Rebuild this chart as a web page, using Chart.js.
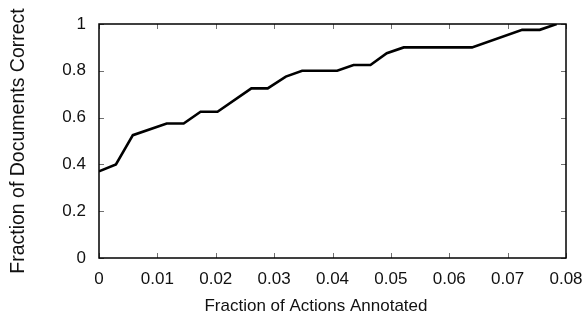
<!DOCTYPE html>
<html>
<head>
<meta charset="utf-8">
<script src="https://cdn.jsdelivr.net/npm/chart.js@4.4.1/dist/chart.umd.min.js"></script>
<style>
  html, body { margin: 0; padding: 0; background: #fff; }
  #wrap { width: 587px; height: 320px; position: relative; }
</style>
</head>
<body>
<div id="wrap"><canvas id="c" width="587" height="320"></canvas></div>
<script>
// Data
const fractionActions = [0, 0.0029, 0.0058, 0.0116, 0.0145, 0.0174, 0.0203, 0.0261, 0.0289, 0.0320, 0.0348, 0.0408, 0.0436, 0.0465, 0.0493, 0.0522, 0.0639, 0.0725, 0.0755, 0.0784];
const fractionCorrect = [0.37, 0.40, 0.525, 0.575, 0.575, 0.625, 0.625, 0.725, 0.725, 0.775, 0.80, 0.80, 0.825, 0.825, 0.875, 0.90, 0.90, 0.975, 0.975, 1.0];
const xTickValues = [0, 0.01, 0.02, 0.03, 0.04, 0.05, 0.06, 0.07, 0.08];
const yTickValues = [0, 0.2, 0.4, 0.6, 0.8, 1];
const xTitle = 'Fraction of Actions Annotated';
const yTitle = 'Fraction of Documents Correct';

const points = fractionActions.map((x, i) => ({ x: x, y: fractionCorrect[i] }));
const FONT = 'Liberation Sans, Arial, Helvetica, sans-serif';

const frameTicks = {
  id: 'frameTicks',
  afterDatasetsDraw(chart) {
    const { ctx, chartArea: a, scales } = chart;
    ctx.save();
    ctx.strokeStyle = '#707070';
    ctx.lineWidth = 1;
    const L = 5;
    ctx.beginPath();
    scales.x.ticks.forEach(t => {
      const px = Math.round(scales.x.getPixelForValue(t.value)) + 0.5;
      ctx.moveTo(px, a.bottom); ctx.lineTo(px, a.bottom - L);
      ctx.moveTo(px, a.top); ctx.lineTo(px, a.top + L);
    });
    scales.y.ticks.forEach(t => {
      const py = Math.round(scales.y.getPixelForValue(t.value)) + 0.5;
      ctx.moveTo(a.left, py); ctx.lineTo(a.left + L, py);
      ctx.moveTo(a.right, py); ctx.lineTo(a.right - L, py);
    });
    ctx.stroke();
    ctx.strokeStyle = '#000';
    ctx.lineWidth = 1.5;
    ctx.strokeRect(a.left, a.top, a.right - a.left, a.bottom - a.top);
    ctx.restore();
  }
};

new Chart(document.getElementById('c'), {
  type: 'line',
  data: {
    datasets: [{
      data: points,
      borderColor: '#000',
      borderWidth: 2.6,
      pointRadius: 0,
      tension: 0,
      fill: false
    }]
  },
  options: {
    responsive: false,
    animation: false,
    layout: { padding: { left: 0, right: 21, top: 24, bottom: 0 } },
    plugins: { legend: { display: false }, tooltip: { enabled: false } },
    scales: {
      x: {
        type: 'linear',
        min: 0, max: 0.08,
        afterBuildTicks(s) { s.ticks = xTickValues.map(v => ({ value: v })); },
        afterFit(s) { s.height = 62; s.paddingLeft = 0; s.paddingRight = 0; },
        grid: { display: false, drawTicks: false },
        border: { display: false },
        ticks: {
          padding: 11,
          color: '#111',
          font: { family: FONT, size: 17 },
          maxRotation: 0,
          callback: v => String(Number(v.toFixed(2)))
        },
        title: {
          display: true, text: xTitle + '\u00A0'.repeat(7), color: '#111',
          font: { family: FONT, size: 17 },
          padding: { top: 0, bottom: 3 }
        }
      },
      y: {
        type: 'linear',
        min: 0, max: 1,
        afterBuildTicks(s) { s.ticks = yTickValues.map(v => ({ value: v })); },
        afterFit(s) { s.width = 99; s.paddingTop = 0; s.paddingBottom = 0; },
        grid: { display: false, drawTicks: false },
        border: { display: false },
        ticks: {
          padding: 13,
          color: '#111',
          font: { family: FONT, size: 17 },
          callback: v => String(Number(v.toFixed(2)))
        },
        title: {
          display: true, text: yTitle, color: '#111',
          font: { family: FONT, size: 19.5 },
          padding: { top: 7, bottom: 0 }
        }
      }
    }
  },
  plugins: [frameTicks]
});
</script>
</body>
</html>
